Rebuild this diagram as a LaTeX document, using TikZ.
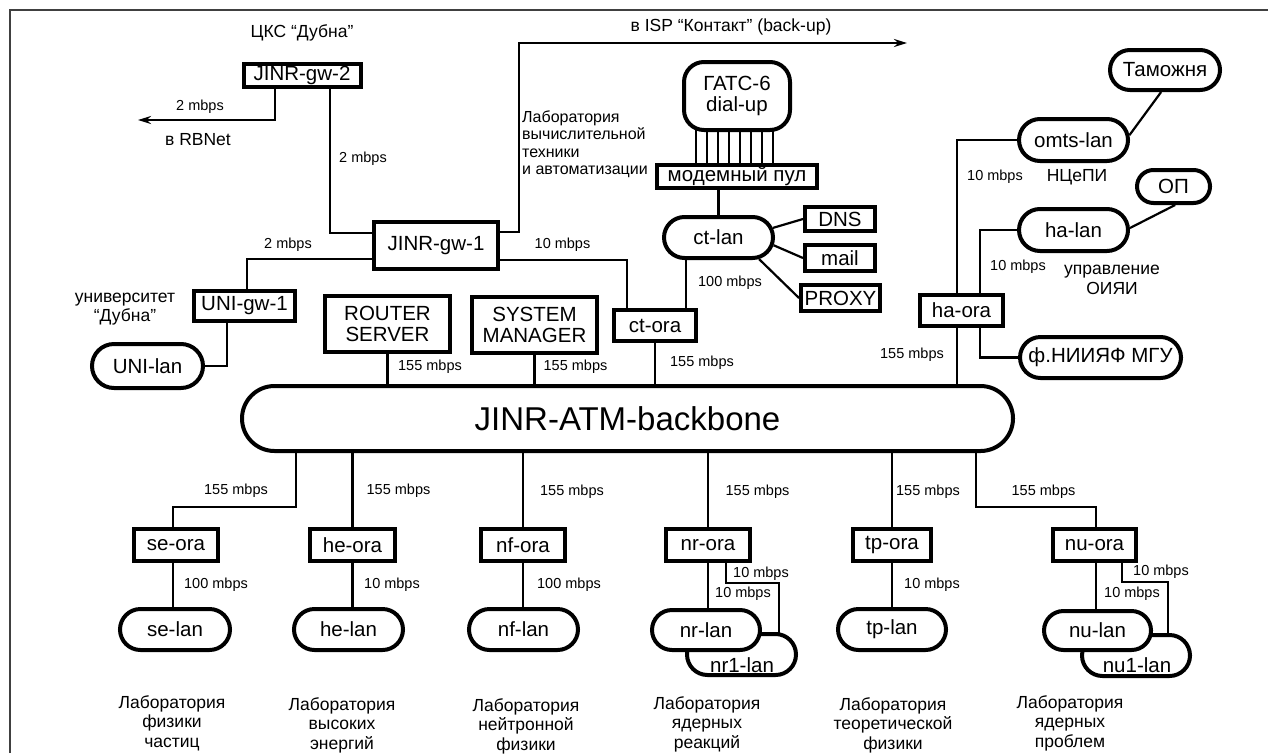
\documentclass[tikz,border=0pt]{standalone}
\usepackage{fontspec}
\setmainfont{Liberation Sans}
\usetikzlibrary{shapes.misc,arrows.meta}
\pgfdeclarelayer{bg}
\pgfsetlayers{bg,main}
\begin{document}
\begin{tikzpicture}[x=1pt,y=-1pt,
  conn/.style={line width=2.2pt},
  arr/.style={line width=2.2pt,-{Stealth[length=13pt,width=8pt]}},
  box/.style={draw,line width=4pt,fill=white,inner sep=0pt,align=center,font=\fontsize{20.5}{21.5}\selectfont},
  lan/.style={rounded rectangle,draw,line width=4pt,fill=white,inner sep=0pt,font=\fontsize{20.5}{22}\selectfont},
  sz/.style 2 args={minimum width={#1pt-4pt},minimum height={#2pt-4pt}},
  sm/.style={font=\fontsize{14.5}{16}\selectfont,inner sep=0pt},
  md/.style={font=\fontsize{17.5}{19.5}\selectfont,inner sep=0pt,align=center},
  frame/.style={line width=1.5pt,draw=black!75}]
\useasboundingbox (0,0) rectangle (1268,753);
\draw[frame] (10,753) -- (10,10) -- (1268,10);

% ---------- top-left ----------
\node[md] (cks) at (302,33) {ЦКС “Дубна”};
\node[box,sz={121}{27}] (gw2) at (302,75.5) {JINR-gw-2};
\coordinate (rbnet) at (138,120);
\node[sm] (l1) at (200,107) {2 mbps};
\node[md] (rbl) at (198,140) {в RBNet};
\node[box,sz={128}{51}] (gw1) at (436,245.5) {JINR-gw-1};
\node[sm] (l2) at (363,159) {2 mbps};
\coordinate (isp) at (907,43);
\node[md] (ispl) at (731,27) {в ISP “Контакт” (back-up)};
\node[font=\fontsize{16}{17.5}\selectfont,align=left,anchor=west,inner sep=0pt] (lvta) at (522,144) {Лаборатория\\вычислительной\\техники\\и автоматизации};
\node[sm] (l3) at (562.5,245) {10 mbps};
\node[sm] (l4) at (288,245) {2 mbps};
\node[md] (univ) at (125,309) {университет\\“Дубна”};
\node[box,sz={105}{34}] (unigw) at (244.5,306) {UNI-gw-1};
\node[lan,sz={115}{48}] (unilan) at (147.5,366) {UNI-lan};

% ---------- centre ----------
\node[box,sz={129}{60}] (router) at (387.5,324) {ROUTER\\SERVER};
\node[box,sz={129}{60}] (sysman) at (534.5,325) {SYSTEM\\MANAGER};
\node[box,sz={86}{35}] (ctora) at (655,325.5) {ct-ora};
\node[lan,sz={113}{45}] (ctlan) at (718.5,237.5) {ct-lan};
\node[box,sz={164}{27}] (modem) at (737,176.5) {модемный пул};
\node[box,sz={110}{72},rounded corners=20pt,font=\fontsize{20.5}{21}\selectfont] (gats) at (737,96) {ГАТС-6\\dial-up};
\node[box,sz={74}{28}] (dns) at (840,219) {DNS};
\node[box,sz={74}{30}] (mail) at (840,258) {mail};
\node[box,sz={83}{30}] (proxy) at (840.5,298) {PROXY};
\node[sm] (l5) at (730,283) {100 mbps};
\node[sm] (l6) at (702,363) {155 mbps};
\node[sm] (l7) at (575.5,367) {155 mbps};
\node[sm] (l8) at (430,367) {155 mbps};

% ---------- right ----------
\node[box,sz={87}{35}] (haora) at (961.5,310.5) {ha-ora};
\node[lan,sz={113}{46}] (omts) at (1073.5,140) {omts-lan};
\node[lan,sz={114}{44}] (tam) at (1165,70) {Таможня};
\node[lan,sz={113}{46}] (halan) at (1073.5,230) {ha-lan};
\node[lan,sz={77}{37}] (op) at (1173.5,186.5) {ОП};
\node[lan,sz={165}{45}] (fmgu) at (1100.5,357.5) {ф.НИИЯФ МГУ};
\node[sm] (l9) at (995,177) {10 mbps};
\node[md] (ncepi) at (1077,177) {НЦеПИ};
\node[sm] (l10) at (1018,267) {10 mbps};
\node[md] (uprav) at (1112,280) {управление\\ОИЯИ};
\node[sm] (l11) at (912,355) {155 mbps};

% ---------- backbone ----------
\node[lan,sz={775}{69},font=\fontsize{33}{36}\selectfont] (bb) at (627.5,418.5) {JINR-ATM-backbone};

% ---------- bottom ----------
\node[box,sz={88}{36}] (seora) at (176,545) {se-ora};
\node[lan,sz={114}{45}] (selan) at (175,629.5) {se-lan};
\node[box,sz={89}{36}] (heora) at (352.5,545) {he-ora};
\node[lan,sz={113}{45}] (helan) at (348.5,629.5) {he-lan};
\node[box,sz={88}{36}] (nfora) at (523,545) {nf-ora};
\node[lan,sz={113}{45}] (nflan) at (523.5,629.5) {nf-lan};
\node[box,sz={88}{36}] (nrora) at (708,545) {nr-ora};
\node[lan,sz={113}{45}] (nr1) at (741.5,654.5) {};
\node[lan,sz={112}{44}] (nrlan) at (706,630) {nr-lan};
\node[font=\fontsize{20.5}{22}\selectfont,inner sep=0pt] (nr1t) at (742,665) {nr1-lan};
\node[box,sz={82}{36}] (tpora) at (892,545) {tp-ora};
\node[lan,sz={112}{45}] (tplan) at (892,629.5) {tp-lan};
\node[box,sz={87}{36}] (nuora) at (1094.5,545) {nu-ora};
\node[lan,sz={112}{45}] (nu1) at (1136,655.5) {};
\node[lan,sz={111}{43}] (nulan) at (1097.5,630.5) {nu-lan};
\node[font=\fontsize{20.5}{22}\selectfont,inner sep=0pt] (nu1t) at (1137,665) {nu1-lan};

\node[sm] (b1) at (236,491) {155 mbps};
\node[sm] (b2) at (398.5,491) {155 mbps};
\node[sm] (b3) at (572,492) {155 mbps};
\node[sm] (b4) at (757.5,492) {155 mbps};
\node[sm] (b5) at (928,492) {155 mbps};
\node[sm] (b6) at (1043.5,492) {155 mbps};
\node[sm] (c1) at (216,585) {100 mbps};
\node[sm] (c2) at (392,585) {10 mbps};
\node[sm] (c3) at (569,585) {100 mbps};
\node[sm] (c4) at (743,594) {10 mbps};
\node[sm] (c5) at (761,574) {10 mbps};
\node[sm] (c6) at (932,585) {10 mbps};
\node[sm] (c7) at (1132,594) {10 mbps};
\node[sm] (c8) at (1161,572) {10 mbps};

\node[md] (lab1) at (172,723) {Лаборатория\\физики\\частиц};
\node[md] (lab2) at (342,725) {Лаборатория\\высоких\\энергий};
\node[md] (lab3) at (526,726) {Лаборатория\\нейтронной\\физики};
\node[md] (lab4) at (707,724) {Лаборатория\\ядерных\\реакций};
\node[md] (lab5) at (893,725) {Лаборатория\\теоретической\\физики};
\node[md] (lab6) at (1070,723) {Лаборатория\\ядерных\\проблем};

% ---------- connectors ----------
\begin{pgfonlayer}{bg}
\draw[arr] ([xshift=-27pt]gw2.south) |- (rbnet);
\draw[conn] ([xshift=28pt]gw2.south) |- ([yshift=12.5pt]gw1.west);
\draw[arr] ([yshift=13.5pt]gw1.east) -- ++(19,0) |- (isp);
\draw[conn] ([yshift=-14.5pt]gw1.east) -| ([xshift=-28pt]ctora.north);
\draw[conn] ([yshift=-13.5pt]gw1.west) -| ([xshift=2.5pt]unigw.north);
\draw[conn] ([xshift=-17.5pt]unigw.south) |- (unilan.east);
\draw[conn] (router.south) -- (router.south |- bb.north);
\draw[conn] (sysman.south) -- (sysman.south |- bb.north);
\draw[conn] (ctora.south) -- (ctora.south |- bb.north);
\draw[conn] ([xshift=31pt]ctora.north) -- ++(0,-52);
\draw[conn] (ctlan.north) -- (ctlan.north |- modem.south);
\foreach \xx in {696,707,718,729,740,751,762,773}
  \draw[conn] (gats.center -| \xx,0) -- (modem.center -| \xx,0);
\draw[conn] (ctlan.10) -- (dns.west);
\draw[conn] (ctlan.-8) -- (mail.west);
\draw[conn] (ctlan.-28) -- (proxy.west);
\draw[conn] (omts.west) -| (957,0 |- bb.north);
\draw[conn] ([xshift=18.5pt]haora.north) |- (halan.west);
\draw[conn] ([xshift=18.5pt]haora.south) |- (fmgu.west);
\draw[conn] (omts.5) -- (tam.-100);
\draw[conn] (halan.2) -- (op.-85);
\draw[conn] (296,0 |- bb.south) -- ++(0,54) -| ([xshift=-3pt]seora.north);
\draw[conn] (heora.north) -- (heora.north |- bb.south);
\draw[conn] (nfora.north) -- (nfora.north |- bb.south);
\draw[conn] (nrora.north) -- (nrora.north |- bb.south);
\draw[conn] (tpora.north) -- (tpora.north |- bb.south);
\draw[conn] (976,0 |- bb.south) -- ++(0,54) -| ([xshift=1.5pt]nuora.north);
\draw[conn] ([xshift=-3pt]seora.south) -- ++(0,46);
\draw[conn] (heora.south) -- ++(0,46);
\draw[conn] (nfora.south) -- ++(0,46);
\draw[conn] (nrora.south) -- ++(0,46);
\draw[conn] (tpora.south) -- ++(0,46);
\draw[conn] ([xshift=1.5pt]nuora.south) -- ++(0,46);
\draw[conn] ([xshift=18pt]nrora.south) -- ++(0,20) -| ([xshift=37.5pt,yshift=-6pt]nr1.north);
\draw[conn] ([xshift=27.5pt]nuora.south) -- ++(0,19) -| ([xshift=32pt,yshift=-6pt]nu1.north);
\end{pgfonlayer}
\end{tikzpicture}
\end{document}
